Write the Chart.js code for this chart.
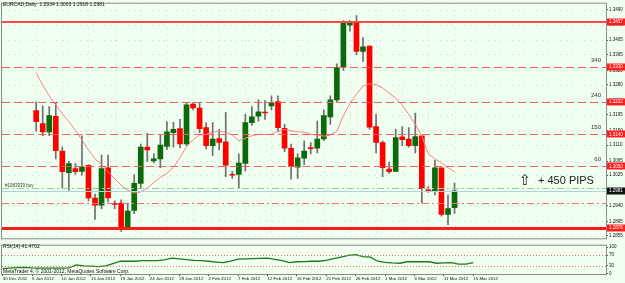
<!DOCTYPE html>
<html>
<head>
<meta charset="utf-8">
<title>EURCAD Daily</title>
<script src="https://cdn.jsdelivr.net/npm/chart.js@4.4.1/dist/chart.umd.min.js"></script>
<style>
  body { margin: 0; background: #f0fff0; }
  .wrap { position: relative; width: 625px; height: 283px; background: #f0fff0; overflow: hidden; }
  canvas { position: absolute; left: 0; }
  #priceChart { top: 0; }
  #rsiChart { top: 242px; }
</style>
</head>
<body>
<div class="wrap">
  <canvas id="priceChart" width="625" height="242"></canvas>
  <canvas id="rsiChart" width="625" height="41"></canvas>
</div>
<script>
const symbol = "EURCAD,Daily";
const dates = [
  "30 Dec 2011", "2 Jan 2012", "3 Jan 2012", "4 Jan 2012", "5 Jan 2012", "6 Jan 2012", "8 Jan 2012", "9 Jan 2012",
  "10 Jan 2012", "11 Jan 2012", "12 Jan 2012", "13 Jan 2012", "15 Jan 2012", "16 Jan 2012", "17 Jan 2012", "18 Jan 2012",
  "19 Jan 2012", "20 Jan 2012", "22 Jan 2012", "23 Jan 2012", "24 Jan 2012", "25 Jan 2012", "26 Jan 2012", "27 Jan 2012",
  "29 Jan 2012", "30 Jan 2012", "31 Jan 2012", "1 Feb 2012", "2 Feb 2012", "3 Feb 2012", "5 Feb 2012", "6 Feb 2012",
  "7 Feb 2012", "8 Feb 2012", "9 Feb 2012", "10 Feb 2012", "12 Feb 2012", "13 Feb 2012", "14 Feb 2012", "15 Feb 2012",
  "16 Feb 2012", "17 Feb 2012", "19 Feb 2012", "20 Feb 2012", "21 Feb 2012", "22 Feb 2012", "23 Feb 2012", "24 Feb 2012",
  "26 Feb 2012", "27 Feb 2012", "28 Feb 2012", "29 Feb 2012", "1 Mar 2012", "2 Mar 2012", "4 Mar 2012", "5 Mar 2012",
  "6 Mar 2012", "7 Mar 2012", "8 Mar 2012", "9 Mar 2012", "11 Mar 2012", "12 Mar 2012", "13 Mar 2012", "14 Mar 2012",
  "15 Mar 2012"
];
const dateTicks = [
  "30 Dec 2011", "5 Jan 2012", "10 Jan 2012", "15 Jan 2012", "19 Jan 2012", "24 Jan 2012", "29 Jan 2012", "2 Feb 2012",
  "7 Feb 2012", "12 Feb 2012", "16 Feb 2012", "21 Feb 2012", "26 Feb 2012", "1 Mar 2012", "6 Mar 2012", "11 Mar 2012",
  "15 Mar 2012"
];

const opens = [
  1.3207, 1.3170, 1.3147, 1.3191, 1.3093, 1.3032, 1.3044, 1.3036, 1.3053, 1.2961,
  1.2941, 1.3046, 1.2945, 1.2947, 1.2878, 1.2926, 1.3002, 1.3104, 1.3065, 1.3071,
  1.3106, 1.3145, 1.3156, 1.3113, 1.3225, 1.3214, 1.3159, 1.3108, 1.3128, 1.3119,
  1.3027, 1.3027, 1.3058, 1.3173, 1.3191, 1.3202, 1.3220, 1.3232, 1.3157, 1.3101,
  1.3048, 1.3073, 1.3101, 1.3101, 1.3127, 1.3189, 1.3237, 1.3329, 1.3447, 1.3453,
  1.3373, 1.3388, 1.3162, 1.3117, 1.3042, 1.3036, 1.3133, 1.3127, 1.3108, 1.3136,
  1.2982, 1.2981, 1.3046, 1.2915, 1.2934
];
const highs = [
  1.3231, 1.3220, 1.3218, 1.3229, 1.3104, 1.3064, 1.3058, 1.3136, 1.3055, 1.2972,
  1.3082, 1.3082, 1.2953, 1.2956, 1.2947, 1.3027, 1.3113, 1.3143, 1.3085, 1.3138,
  1.3176, 1.3174, 1.3182, 1.3229, 1.3229, 1.3229, 1.3173, 1.3173, 1.3154, 1.3202,
  1.3035, 1.3085, 1.3196, 1.3218, 1.3237, 1.3235, 1.3248, 1.3248, 1.3168, 1.3113,
  1.3085, 1.3122, 1.3117, 1.3177, 1.3209, 1.3248, 1.3338, 1.3460, 1.3460, 1.3474,
  1.3412, 1.3389, 1.3196, 1.3122, 1.3062, 1.3154, 1.3162, 1.3159, 1.3200, 1.3136,
  1.2993, 1.3067, 1.3046, 1.2970, 1.3003
];
const lows = [
  1.3149, 1.3136, 1.3136, 1.3071, 1.2990, 1.2982, 1.3027, 1.3025, 1.2953, 1.2901,
  1.2931, 1.2950, 1.2931, 1.2867, 1.2877, 1.2917, 1.2989, 1.3064, 1.3060, 1.3046,
  1.3097, 1.3104, 1.3102, 1.3108, 1.3209, 1.3145, 1.3099, 1.3080, 1.3096, 1.3021,
  1.3016, 1.2989, 1.3037, 1.3165, 1.3177, 1.3182, 1.3209, 1.3147, 1.3091, 1.3014,
  1.3016, 1.3055, 1.3085, 1.3088, 1.3122, 1.3168, 1.3230, 1.3320, 1.3430, 1.3364,
  1.3345, 1.3154, 1.3088, 1.3021, 1.3030, 1.3035, 1.3108, 1.3104, 1.3088, 1.2947,
  1.2977, 1.2970, 1.2910, 1.2886, 1.2918
];
const closes = [
  1.3176, 1.3147, 1.3193, 1.3094, 1.3035, 1.3058, 1.3035, 1.3049, 1.2961, 1.2941,
  1.3044, 1.2961, 1.2943, 1.2878, 1.2924, 1.3002, 1.3104, 1.3096, 1.3071, 1.3110,
  1.3147, 1.3154, 1.3113, 1.3223, 1.3214, 1.3156, 1.3108, 1.3127, 1.3117, 1.3053,
  1.3025, 1.3059, 1.3173, 1.3189, 1.3203, 1.3200, 1.3229, 1.3159, 1.3101, 1.3050,
  1.3074, 1.3093, 1.3100, 1.3127, 1.3193, 1.3237, 1.3328, 1.3453, 1.3453, 1.3373,
  1.3386, 1.3160, 1.3117, 1.3046, 1.3035, 1.3131, 1.3125, 1.3108, 1.3134, 1.2987,
  1.2981, 1.3046, 1.2915, 1.2931, 1.2981
];
const ma = [
  1.3314, 1.3278, 1.3248, 1.3223, 1.3198, 1.3176, 1.3151, 1.3124, 1.3096, 1.3071,
  1.3055, 1.3035, 1.3016, 1.2997, 1.2983, 1.2975, 1.2978, 1.2989, 1.3005, 1.3019,
  1.3030, 1.3047, 1.3075, 1.3105, 1.3125, 1.3138, 1.3140, 1.3146, 1.3149, 1.3146,
  1.3138, 1.3122, 1.3129, 1.3136, 1.3140, 1.3140, 1.3140, 1.3149, 1.3154, 1.3150,
  1.3147, 1.3146, 1.3140, 1.3138, 1.3135, 1.3138, 1.3149, 1.3193, 1.3226, 1.3253,
  1.3276, 1.3282, 1.3280, 1.3270, 1.3256, 1.3242, 1.3223, 1.3196, 1.3168, 1.3135,
  1.3085, 1.3071, 1.3060, 1.3046, 1.3035
];
const rsi = [
  19, 21.5, 23, 24, 22, 21, 21, 21, 21.5, 22,
  33.5, 30, 28.5, 26.5, 30, 38.5, 47, 47, 47, 49,
  49.5, 49.5, 52, 58.5, 56, 53, 50.5, 49.5, 47, 44,
  41.5, 47, 55, 56, 56.5, 57.5, 58.5, 54, 49, 41.5,
  45, 45.5, 47, 47, 50.5, 56.5, 62.5, 69, 72, 64,
  62.5, 47, 42.5, 40.5, 39.5, 45, 45, 45, 45, 39.5,
  40.5, 41.5, 36, 36, 41.4702
];

const priceTicks = [1.3490, 1.3448, 1.3405, 1.3365, 1.3320, 1.3280, 1.3235, 1.3195,
                    1.3150, 1.3110, 1.3065, 1.3025, 1.2982, 1.2940, 1.2895, 1.2855];
const rsiTicks = [0, 30, 70, 100];
const rsiLevels = [30, 70];

const keyLevels = [1.3457, 1.2878];
const targetLevels = [1.3330, 1.3232, 1.3140, 1.3050];
const targetPips = ["340", "240", "150", "60"];
const entryPrice = 1.2990;
const entryLabel = "#1083939 buy";
const stopPrice = 1.2947;
const bidPrice = 1.2981;
const moveLabel = "+ 450 PIPS";

const font = "'Liberation Sans', Arial, sans-serif";
const xMin = -0.095, xMax = 82.04;
const idx = dates.map((d, i) => i);
const tickIdx = dateTicks.map(t => dates.indexOf(t));
const isUp = idx.map(i => closes[i] >= opens[i]);

const frameColor = "#8a8a8a";

// candles, levels and labels for the price window
const priceOverlay = {
  id: "priceOverlay",
  beforeDatasetsDraw(chart) {
    const { ctx, chartArea: a, scales: { x, y } } = chart;
    ctx.save();
    ctx.strokeStyle = "rgba(130,185,180,0.45)";
    ctx.lineWidth = 1;
    ctx.setLineDash([1, 5]);
    priceTicks.forEach(p => {
      const py = Math.round(y.getPixelForValue(p)) + 0.5;
      ctx.beginPath(); ctx.moveTo(a.left, py); ctx.lineTo(a.right, py); ctx.stroke();
    });
    tickIdx.forEach(i => {
      const px = Math.round(x.getPixelForValue(i)) + 0.5;
      ctx.beginPath(); ctx.moveTo(px, a.top); ctx.lineTo(px, a.bottom); ctx.stroke();
    });
    ctx.restore();
  },
  afterDatasetsDraw(chart) {
    const { ctx, chartArea: a, scales: { y } } = chart;
    const hline = (price, color, width, dash) => {
      const py = Math.round(y.getPixelForValue(price)) + (width % 2 ? 0.5 : 0);
      ctx.save();
      ctx.strokeStyle = color; ctx.lineWidth = width; ctx.setLineDash(dash);
      ctx.beginPath(); ctx.moveTo(a.left, py); ctx.lineTo(a.right, py); ctx.stroke();
      ctx.restore();
      return py;
    };
    hline(bidPrice, "#b8cce0", 1, []);
    const ey = hline(entryPrice, "#7fdc7f", 1, [7, 3, 2, 3]);
    hline(stopPrice, "#f07373", 1, [7, 3, 2, 3]);
    ctx.save();
    ctx.fillStyle = "#333";
    ctx.font = `6px ${font}`;
    ctx.textAlign = "right";
    ctx.textBaseline = "alphabetic";
    targetLevels.forEach((p, k) => {
      const py = hline(p, "#f06060", 1, [8, 4]);
      ctx.fillText(targetPips[k], a.right - 5, py - 6);
    });
    ctx.restore();
    hline(keyLevels[0], "#ff4848", 2, []);
    hline(keyLevels[1], "#ff1a1a", 3, []);

    ctx.save();
    ctx.fillStyle = "#404040";
    ctx.font = `4.5px ${font}`;
    ctx.textAlign = "left";
    ctx.fillText(entryLabel, a.left + 3, ey - 2);
    ctx.fillStyle = "#222";
    ctx.font = `11px ${font}`;
    ctx.textBaseline = "middle";
    ctx.fillText(moveLabel, 538, 181);
    ctx.font = `15px 'DejaVu Sans', sans-serif`;
    ctx.textAlign = "center";
    ctx.fillText("\u21E7", 525, 181);
    ctx.restore();
  },
  afterDraw(chart) {
    const { ctx, chartArea: a, scales: { y } } = chart;
    ctx.save();
    ctx.strokeStyle = frameColor;
    ctx.lineWidth = 1;
    ctx.strokeRect(a.left - 0.5, a.top - 0.5, a.right - a.left + 1, a.bottom - a.top + 1);
    const tag = (price, bg) => {
      const py = y.getPixelForValue(price);
      ctx.fillStyle = bg;
      ctx.fillRect(a.right + 1, Math.round(py) - 3.5, 18, 7);
      ctx.fillStyle = "#fff";
      ctx.font = `4.5px ${font}`;
      ctx.textAlign = "left";
      ctx.textBaseline = "middle";
      ctx.fillText(price.toFixed(4), a.right + 3, py);
    };
    keyLevels.concat(targetLevels).forEach(p => tag(p, "#ff1e1e"));
    tag(bidPrice, "#101010");
    ctx.fillStyle = "#111";
    ctx.font = `5px ${font}`;
    ctx.textAlign = "left";
    ctx.textBaseline = "middle";
    const last = dates.length - 1;
    ctx.fillText(`${symbol}  ${opens[last].toFixed(4)} ${highs[last].toFixed(4)} ${lows[last].toFixed(4)} ${closes[last].toFixed(4)}`, 3, 5);
    ctx.restore();
  }
};

new Chart(document.getElementById("priceChart"), {
  type: "bar",
  data: {
    datasets: [
      {
        type: "line",
        data: idx.map(i => ({ x: i, y: ma[i] })),
        borderColor: "#ff8080",
        borderWidth: 1,
        pointRadius: 0,
        tension: 0,
        order: 0
      },
      {
        data: idx.map(i => ({ x: i, y: [opens[i], closes[i]] })),
        backgroundColor: idx.map(i => (isUp[i] ? "#0b6b0b" : "#ff0000")),
        borderWidth: 0,
        borderSkipped: false,
        barThickness: 5,
        minBarLength: 1,
        grouped: false,
        order: 1
      },
      {
        data: idx.map(i => ({ x: i, y: [lows[i], highs[i]] })),
        backgroundColor: "#6f6f6f",
        borderWidth: 0,
        barThickness: 1,
        grouped: false,
        order: 2
      }
    ]
  },
  options: {
    responsive: false,
    animation: false,
    layout: { padding: { left: 2, top: 2, right: 0, bottom: 1 } },
    plugins: { legend: { display: false }, tooltip: { enabled: false } },
    scales: {
      x: { type: "linear", display: false, min: xMin, max: xMax },
      y: {
        type: "linear",
        position: "right",
        min: 1.28477,
        max: 1.35074,
        afterBuildTicks: scale => { scale.ticks = priceTicks.map(v => ({ value: v })); },
        afterFit: scale => { scale.width = 19; },
        ticks: {
          font: { size: 4.5, family: font },
          color: "#111",
          padding: 1,
          callback: v => Number(v).toFixed(4)
        },
        grid: { drawOnChartArea: false, drawTicks: true, tickLength: 2, tickColor: "#555" },
        border: { color: frameColor }
      }
    }
  },
  plugins: [priceOverlay]
});

// RSI window
const rsiOverlay = {
  id: "rsiOverlay",
  afterDatasetsDraw(chart) {
    const { ctx, chartArea: a, scales: { y } } = chart;
    ctx.save();
    ctx.strokeStyle = "#e86a6a";
    ctx.lineWidth = 1;
    ctx.setLineDash([1, 2]);
    rsiLevels.forEach(v => {
      const py = Math.round(y.getPixelForValue(v)) + 0.5;
      ctx.beginPath(); ctx.moveTo(a.left, py); ctx.lineTo(a.right, py); ctx.stroke();
    });
    ctx.restore();
  },
  afterDraw(chart) {
    const { ctx, chartArea: a } = chart;
    ctx.save();
    ctx.strokeStyle = frameColor;
    ctx.lineWidth = 1;
    ctx.strokeRect(a.left - 0.5, a.top - 0.5, a.right - a.left + 1, a.bottom - a.top + 1);
    ctx.fillStyle = "#111";
    ctx.font = `5px ${font}`;
    ctx.textAlign = "left";
    ctx.textBaseline = "middle";
    ctx.fillText(`RSI(14) ${rsi[rsi.length - 1].toFixed(4)}`, 3, 5);
    ctx.fillText("MetaTrader 4, \u00A9 2001-2012, MetaQuotes Software Corp.", 3, 29.5);
    ctx.restore();
  }
};

new Chart(document.getElementById("rsiChart"), {
  type: "line",
  data: {
    datasets: [{
      data: idx.map(i => ({ x: i, y: rsi[i] })),
      borderColor: "#1f7a1f",
      borderWidth: 1.3,
      pointRadius: 0,
      tension: 0
    }]
  },
  options: {
    responsive: false,
    animation: false,
    layout: { padding: { left: 2, top: 1, right: 0, bottom: 0 } },
    plugins: { legend: { display: false }, tooltip: { enabled: false } },
    scales: {
      x: {
        type: "linear",
        min: xMin,
        max: xMax,
        afterBuildTicks: scale => { scale.ticks = tickIdx.map(v => ({ value: v })); },
        afterFit: scale => { scale.height = 9; },
        ticks: {
          font: { size: 4.4, family: font },
          color: "#111",
          align: "start",
          maxRotation: 0,
          autoSkip: false,
          padding: 0,
          callback: v => dates[v]
        },
        grid: { drawOnChartArea: false, drawTicks: true, tickLength: 2, tickColor: "#444" },
        border: { color: frameColor }
      },
      y: {
        type: "linear",
        position: "right",
        min: -0.7,
        max: 105,
        afterBuildTicks: scale => { scale.ticks = rsiTicks.map(v => ({ value: v })); },
        afterFit: scale => { scale.width = 19; },
        ticks: { font: { size: 4.5, family: font }, color: "#111", padding: 1 },
        grid: { drawOnChartArea: false, drawTicks: true, tickLength: 2, tickColor: "#555" },
        border: { color: frameColor }
      }
    }
  },
  plugins: [rsiOverlay]
});
</script>
</body>
</html>
